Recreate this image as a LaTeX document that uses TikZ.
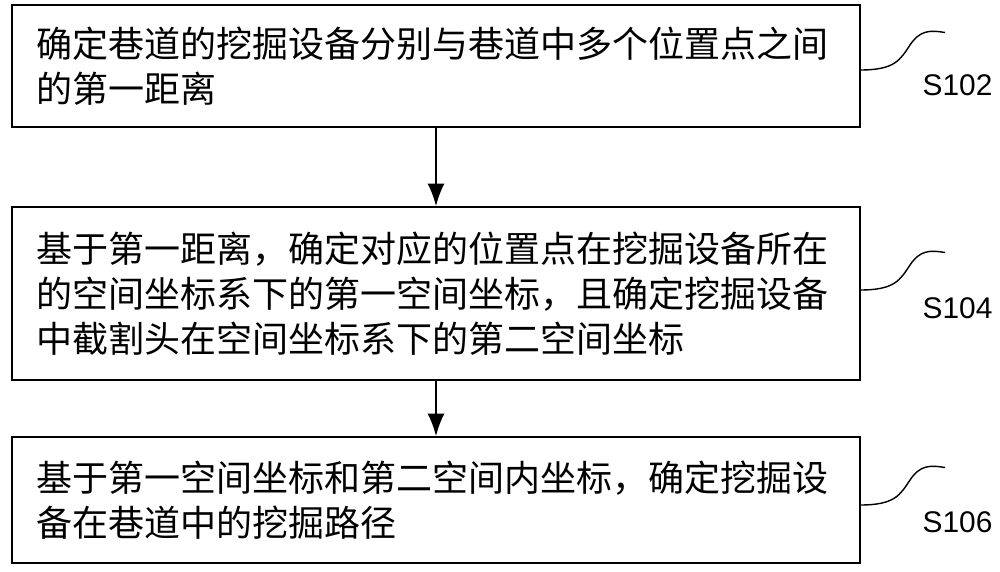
\documentclass[tikz,border=0pt]{standalone}
\usepackage{fontspec}
\newfontfamily\cjk{Noto Sans CJK SC}
\setsansfont{Liberation Sans}
\usetikzlibrary{positioning,arrows.meta}
\tikzset{
  stepbox/.style={draw, line width=1pt, minimum width=16.96cm, text width=16cm, align=left, inner sep=0pt,
    font=\cjk\fontsize{20.5}{25.6}\selectfont},
  flow/.style={-{Latex[length=4.5mm,width=3.4mm]}, line width=1pt},
  tag/.style={font=\sffamily\fontsize{17}{20}\selectfont}
}
\begin{document}
\begin{tikzpicture}
\useasboundingbox (0,0) rectangle (20,-11.42);

% Steps
\node[stepbox, minimum height=2.44cm] (s102) at (8.72,-1.32) {确定巷道的挖掘设备分别与巷道中多个位置点之间\\的第一距离};
\node[stepbox, minimum height=3.46cm] (s104) at (8.72,-5.87) {基于第一距离，确定对应的位置点在挖掘设备所在\\的空间坐标系下的第一空间坐标，且确定挖掘设备\\中截割头在空间坐标系下的第二空间坐标};
\node[stepbox, minimum height=2.52cm] (s106) at (8.72,-10.0) {基于第一空间坐标和第二空间内坐标，确定挖掘设\\备在巷道中的挖掘路径};

% Arrows
\draw[flow] (s102.south) -- (s104.north);
\draw[flow] (s104.south) -- (s106.north);

% Labels with squiggles
\foreach \s/\y in {s102/-1.4, s104/-5.8, s106/-10.1}{
  \coordinate (\s e) at (17.2,\y);
  \draw[line width=0.8pt] (\s e) .. controls (17.9,\y) and (18.0,\y+0.2) .. (18.2,\y+0.5)
        .. controls (18.4,\y+0.8) and (18.6,\y+0.8) .. (18.9,\y+0.75);
}
\node[tag] (l102) at (19.15,-1.7) {S102};
\node[tag] (l104) at (19.15,-6.16) {S104};
\node[tag] (l106) at (19.15,-10.44) {S106};
\end{tikzpicture}
\end{document}
